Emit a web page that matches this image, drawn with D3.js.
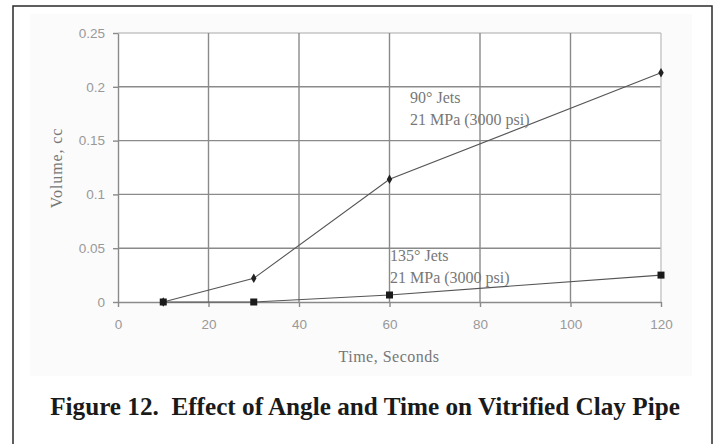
<!DOCTYPE html>
<html><head><meta charset="utf-8">
<script src="https://cdn.jsdelivr.net/npm/d3@7"></script>
<style>body{margin:0;background:#fff}svg{display:block}</style>
</head><body>
<svg id="c" width="718" height="444"></svg>
<script>
const times90 = [10, 30, 60, 120];
const vol90 = [0, 0.022, 0.114, 0.213];
const times135 = [10, 30, 60, 120];
const vol135 = [0, 0, 0.0065, 0.025];
const xTicks = [0, 20, 40, 60, 80, 100, 120];
const yTicks = [0, 0.05, 0.1, 0.15, 0.2, 0.25];
const yTickLabels = ["0", "0.05", "0.1", "0.15", "0.2", "0.25"];
const label90 = ["90° Jets", "21 MPa (3000 psi)"];
const label135 = ["135° Jets", "21 MPa (3000 psi)"];
const xTitle = "Time, Seconds";
const yTitle = "Volume, cc";
const figTitle = "Figure 12.  Effect of Angle and Time on Vitrified Clay Pipe";

const svg = d3.select("#c");
const L = 118, R = 661, T = 33, B = 302;
const x = d3.scaleLinear().domain([0, 120]).range([L, R]);
const y = d3.scaleLinear().domain([0, 0.25]).range([B, T]);

// outer frame
svg.append("rect").attr("x", 13).attr("y", 6).attr("width", 699).attr("height", 460)
  .attr("fill", "#fff").attr("stroke", "#2a2a2a").attr("stroke-width", 1.5);
svg.append("rect").attr("x", 30).attr("y", 14).attr("width", 662).attr("height", 362)
  .attr("fill", "#fbfbfb");
svg.append("rect").attr("x", L).attr("y", T).attr("width", R - L).attr("height", B - T)
  .attr("fill", "#fff");

// gridlines
const g = svg.append("g");
g.selectAll("line.hg").data(yTicks.slice(1)).join("line")
  .attr("x1", L).attr("x2", R).attr("y1", d => y(d)).attr("y2", d => y(d))
  .attr("stroke", d => d === 0.25 ? "#c4c4c4" : "#8a8a8a").attr("stroke-width", 1.4);
g.selectAll("line.vg").data(xTicks.slice(1)).join("line")
  .attr("y1", T).attr("y2", B).attr("x1", d => x(d)).attr("x2", d => x(d))
  .attr("stroke", d => d === 120 ? "#c4c4c4" : "#8a8a8a").attr("stroke-width", 1.4);

// axes
const xAxis = svg.append("g").attr("transform", `translate(0,${B})`)
  .call(d3.axisBottom(x).tickValues(xTicks).tickSize(5).tickSizeOuter(0).tickPadding(12));
const yAxis = svg.append("g").attr("transform", `translate(${L},0)`)
  .call(d3.axisLeft(y).tickValues(yTicks).tickFormat((d, i) => yTickLabels[i]).tickSize(5).tickSizeOuter(0).tickPadding(8));
[xAxis, yAxis].forEach(a => {
  a.select(".domain").attr("stroke", "#8a8a8a").attr("stroke-width", 1.4);
  a.selectAll(".tick line").attr("stroke", "#8a8a8a").attr("stroke-width", 1.4);
  a.selectAll(".tick text").attr("fill", "#999").attr("font-family", "'Liberation Sans', Arial, sans-serif").attr("font-size", 13.5);
});

// lines
const line = d3.line().x(d => x(d[0])).y(d => y(d[1]));
const d90 = times90.map((t, i) => [t, vol90[i]]);
const d135 = times135.map((t, i) => [t, vol135[i]]);
svg.append("path").datum(d135).attr("d", line).attr("fill", "none").attr("stroke", "#555").attr("stroke-width", 1.1);
svg.append("path").datum(d90).attr("d", line).attr("fill", "none").attr("stroke", "#555").attr("stroke-width", 1.1);

// markers
svg.selectAll("path.dia").data(d90).join("path")
  .attr("d", d3.symbol().type(d3.symbolDiamond).size(26))
  .attr("transform", d => `translate(${x(d[0])},${y(d[1])})`).attr("fill", "#222");
svg.selectAll("rect.sq").data(d135).join("rect")
  .attr("x", d => x(d[0]) - 3.5).attr("y", d => y(d[1]) - 3.5).attr("width", 7).attr("height", 7)
  .attr("fill", "#1a1a1a");

// annotations
const serif = "'Liberation Serif', 'Times New Roman', serif";
function ann(lines, px, py) {
  lines.forEach((t, i) => svg.append("text").attr("x", px).attr("y", py + i * 22)
    .attr("font-family", serif).attr("font-size", 16).attr("fill", "#777").text(t));
}
ann(label90, 410, 103);
ann(label135, 390, 261);

// axis titles
svg.append("text").attr("x", 389).attr("y", 362).attr("text-anchor", "middle")
  .attr("font-family", serif).attr("font-size", 16).attr("fill", "#777").attr("letter-spacing", 0.5).text(xTitle);
svg.append("text").attr("transform", "translate(62,168) rotate(-90)").attr("text-anchor", "middle")
  .attr("font-family", serif).attr("font-size", 16).attr("fill", "#777").attr("letter-spacing", 0.9).text(yTitle);

// figure title
const tt = svg.append("text").attr("x", 365).attr("y", 415).attr("text-anchor", "middle")
  .style("font-family", serif).style("font-weight", "700").style("font-size", "22px").attr("fill", "#1a1a1a")
  .style("white-space", "pre").text(figTitle);
const w = tt.node().getComputedTextLength();
tt.style("font-size", (22 * 630 / w).toFixed(2) + "px");
</script>
</body></html>
